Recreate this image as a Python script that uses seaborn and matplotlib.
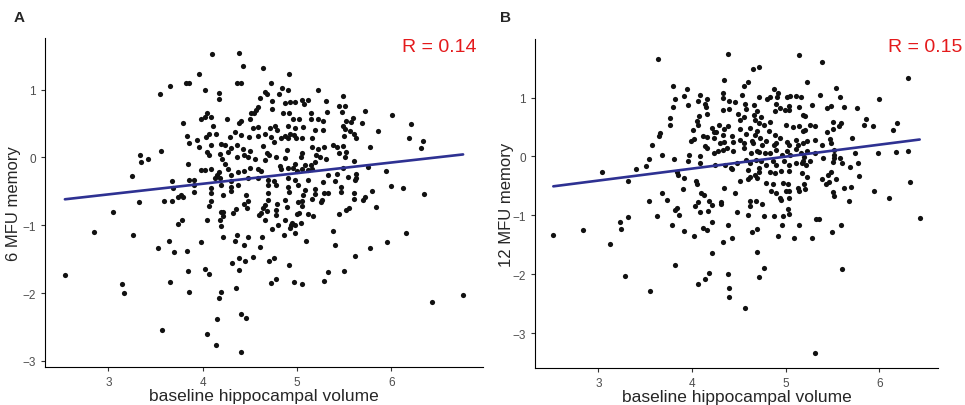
import numpy as np
import pandas as pd
import seaborn as sns
import matplotlib
matplotlib.use("Agg")
import matplotlib.pyplot as plt

# 패널 A : baseline volume vs 6 MFU memory
vol_a = [3.55, 3.65, 3.82, 3.85, 3.79, 3.83, 3.86, 3.34, 3.35, 3.42, 3.56, 3.84, 3.25, 3.67, 3.86, 3.69,
         3.77, 3.74, 3.79, 3.33, 3.59, 3.67, 3.05, 3.78, 3.74, 2.85, 3.26, 3.64, 3.53, 3.70, 3.83, 2.54,
         3.84, 3.15, 3.17, 3.65, 3.85, 3.57, 4.10, 4.39, 4.43, 4.64, 3.96, 4.92, 4.36, 4.41, 4.72, 4.02,
         4.17, 4.17, 4.84, 4.90, 4.66, 4.68, 4.61, 4.81, 5.22, 4.73, 4.87, 4.93, 4.98, 5.05, 5.12, 5.07,
         5.31, 4.59, 4.57, 4.54, 4.51, 4.74, 4.85, 4.91, 5.15, 4.05, 4.02, 3.98, 4.09, 4.26, 4.50, 4.96,
         5.02, 5.15, 5.22, 5.27, 4.90, 4.38, 4.41, 4.11, 4.59, 4.53, 4.71, 4.77, 4.79, 4.98, 4.93, 5.06,
         5.19, 5.27, 4.07, 4.04, 4.14, 4.34, 4.29, 4.49, 4.59, 4.66, 4.72, 4.83, 4.87, 4.90, 4.97, 4.99,
         5.05, 3.94, 4.41, 5.16, 4.09, 4.19, 4.24, 4.30, 4.36, 3.96, 4.43, 4.50, 4.64, 4.76, 4.89, 5.16,
         5.22, 5.29, 4.05, 4.07, 4.18, 4.27, 4.68, 4.70, 4.78, 5.05, 5.04, 5.20, 5.24, 4.21, 4.24, 4.36,
         4.44, 4.48, 4.55, 4.66, 4.87, 4.98, 5.08, 5.19, 5.15, 3.98, 4.02, 4.09, 4.17, 4.15, 4.27, 4.30,
         4.37, 4.44, 4.50, 4.59, 4.62, 4.82, 4.83, 4.90, 4.96, 5.00, 5.05, 5.12, 5.16, 3.91, 4.13, 4.18,
         4.30, 4.37, 4.48, 4.59, 4.69, 4.76, 4.90, 4.98, 5.12, 5.27, 3.91, 4.09, 4.09, 4.19, 4.30, 4.69,
         4.78, 4.90, 5.01, 5.08, 5.19, 3.91, 4.22, 4.30, 4.46, 4.69, 4.92, 5.06, 5.19, 5.29, 4.09, 4.48,
         4.69, 4.87, 5.05, 5.26, 4.07, 4.19, 4.22, 4.18, 4.19, 4.22, 4.05, 4.32, 4.35, 4.44, 4.47, 4.60,
         4.62, 4.64, 4.66, 4.68, 4.66, 4.78, 4.78, 4.79, 4.89, 4.87, 4.94, 4.95, 4.93, 4.98, 4.80, 4.73,
         5.01, 5.05, 5.00, 5.02, 5.04, 5.12, 5.17, 5.25, 5.16, 4.98, 5.10, 4.86, 4.63, 4.48, 4.36, 4.22,
         4.34, 4.44, 4.61, 3.98, 4.39, 4.45, 4.53, 4.31, 4.70, 4.76, 4.92, 4.03, 4.07, 4.39, 4.72, 4.78,
         4.97, 5.05, 5.29, 5.33, 4.35, 4.19, 4.17, 4.15, 4.41, 4.46, 4.05, 4.14, 4.41, 5.49, 5.45, 5.51,
         5.32, 5.48, 5.72, 6.01, 5.59, 5.52, 5.57, 5.49, 5.51, 5.56, 5.60, 5.63, 5.69, 5.50, 6.21, 5.86,
         6.19, 6.33, 6.31, 5.77, 5.38, 5.42, 5.49, 5.45, 5.52, 5.51, 5.31, 5.60, 5.49, 5.75, 5.94, 5.33,
         5.42, 5.54, 5.62, 5.63, 5.61, 5.40, 5.47, 5.47, 6.00, 6.12, 5.33, 5.60, 5.72, 5.79, 5.70, 6.35,
         5.60, 5.84, 5.52, 5.55, 5.44, 5.38, 6.15, 5.40, 5.95, 5.77, 5.61, 5.50, 6.43, 6.76]
mem6 = [0.93, 1.05, 1.09, 1.09, 0.50, 0.31, 0.21, 0.04, -0.07, -0.03, 0.09, -0.09, -0.28, -0.35, -0.34, -0.45,
        -0.55, -0.59, -0.58, -0.66, -0.65, -0.65, -0.80, -0.92, -0.98, -1.10, -1.14, -1.24, -1.33, -1.39, -1.38, -1.74,
        -1.68, -1.86, -2.00, -1.83, -1.98, -2.54, 1.53, 1.54, 1.35, 1.32, 1.23, 1.23, 1.10, 1.10, 1.10, 0.99,
        0.95, 0.86, 1.03, 0.99, 0.96, 0.93, 0.88, 0.93, 0.99, 0.83, 0.80, 0.81, 0.82, 0.84, 0.85, 0.78,
        0.83, 0.74, 0.70, 0.66, 0.65, 0.71, 0.65, 0.66, 0.66, 0.65, 0.60, 0.57, 0.60, 0.56, 0.57, 0.56,
        0.57, 0.56, 0.57, 0.54, 0.47, 0.50, 0.53, 0.47, 0.45, 0.43, 0.43, 0.47, 0.40, 0.43, 0.35, 0.45,
        0.40, 0.40, 0.35, 0.30, 0.35, 0.38, 0.30, 0.30, 0.31, 0.34, 0.30, 0.29, 0.31, 0.28, 0.33, 0.29,
        0.28, 0.26, 0.33, 0.28, 0.18, 0.20, 0.18, 0.14, 0.19, 0.15, 0.13, 0.10, 0.17, 0.23, 0.11, 0.16,
        0.13, 0.15, 0.08, 0.03, 0.05, 0.08, 0.06, 0.03, 0.00, 0.06, 0.00, 0.03, 0.00, -0.03, -0.09, 0.00,
        0.03, 0.01, -0.03, -0.04, -0.01, -0.09, -0.11, -0.07, -0.11, -0.19, -0.19, -0.17, -0.21, -0.26, -0.17, -0.26,
        -0.22, -0.20, -0.16, -0.17, -0.20, -0.13, -0.17, -0.16, -0.15, -0.20, -0.17, -0.19, -0.17, -0.33, -0.31, -0.31,
        -0.35, -0.41, -0.31, -0.31, -0.33, -0.35, -0.31, -0.33, -0.33, -0.37, -0.41, -0.45, -0.53, -0.41, -0.43, -0.41,
        -0.41, -0.43, -0.41, -0.48, -0.46, -0.51, -0.55, -0.50, -0.56, -0.52, -0.51, -0.55, -0.54, -0.53, -0.65, -0.65,
        -0.63, -0.63, -0.65, -0.63, -0.71, -0.80, -0.80, -0.93, -1.01, -0.87, -0.93, -0.82, -0.76, -0.68, -0.75, -0.85,
        -0.82, -0.75, -0.70, -0.79, -0.93, -0.78, -0.85, -0.69, -0.73, -0.92, -1.00, -0.96, -1.04, -1.00, -1.00, -1.06,
        -0.66, -0.71, -0.84, -0.82, -0.97, -0.84, -0.86, -0.66, -0.62, -1.11, -1.24, -1.14, -1.17, -1.18, -1.15, -1.18,
        -1.24, -1.29, -1.32, -1.25, -1.49, -1.53, -1.47, -1.56, -1.53, -1.49, -1.58, -1.65, -1.72, -1.66, -1.85, -1.80,
        -1.83, -1.87, -1.82, -1.69, -1.92, -1.99, -2.07, -2.38, -2.31, -2.37, -2.60, -2.77, -2.87, 0.91, 0.76, 0.76,
        0.67, 0.67, 0.69, 0.63, 0.58, 0.54, 0.52, 0.47, 0.42, 0.39, 0.35, 0.29, 0.50, 0.31, 0.49, 0.39,
        0.29, 0.24, 0.14, 0.16, 0.19, 0.16, 0.17, 0.06, 0.08, 0.00, -0.03, -0.05, -0.15, -0.14, -0.20, -0.26,
        -0.25, -0.29, -0.24, -0.31, -0.34, -0.35, -0.44, -0.51, -0.42, -0.45, -0.53, -0.53, -0.58, -0.50, -0.63, -0.54,
        -0.62, -0.73, -0.78, -0.74, -0.84, -1.08, -1.12, -1.29, -1.25, -1.34, -1.46, -1.67, -2.13, -2.03]

# 패널 B : baseline volume vs 12 MFU memory
vol_b = [3.64, 3.80, 3.82, 3.80, 3.77, 3.77, 3.66, 3.65, 3.57, 3.68, 3.54, 3.81, 3.40, 3.51, 3.04, 3.32,
         3.68, 3.73, 3.54, 3.82, 3.23, 3.32, 3.63, 3.79, 3.24, 2.84, 2.52, 3.13, 3.82, 3.29, 3.55, 4.38,
         5.14, 4.65, 4.72, 4.34, 4.60, 3.95, 3.91, 4.09, 4.16, 4.33, 4.33, 4.40, 4.46, 4.55, 4.53, 4.72,
         4.80, 4.83, 4.88, 4.92, 4.91, 5.01, 5.05, 5.11, 5.16, 3.96, 4.06, 4.14, 4.15, 4.33, 4.40, 4.57,
         4.58, 4.66, 4.69, 4.90, 4.94, 4.89, 4.99, 5.04, 5.04, 5.14, 5.18, 4.07, 4.05, 4.06, 4.16, 4.49,
         4.51, 4.56, 4.66, 4.67, 4.74, 4.72, 4.77, 4.83, 4.82, 4.89, 4.29, 4.34, 4.38, 4.21, 4.23, 4.26,
         4.51, 4.62, 4.58, 4.67, 4.69, 5.00, 5.08, 5.14, 5.18, 4.01, 3.99, 4.02, 4.12, 4.16, 4.23, 4.33,
         4.34, 4.30, 4.43, 4.44, 4.51, 4.55, 4.64, 4.65, 4.73, 4.75, 4.79, 4.87, 4.90, 4.94, 5.01, 5.03,
         5.11, 5.13, 5.18, 4.14, 4.16, 4.09, 4.23, 4.28, 4.33, 4.37, 4.44, 4.55, 4.63, 4.69, 4.72, 4.78,
         4.83, 4.90, 4.96, 5.01, 5.05, 5.11, 5.16, 3.97, 3.96, 4.09, 4.25, 4.35, 4.42, 4.48, 4.58, 4.62,
         4.68, 4.74, 4.79, 4.86, 4.90, 4.98, 5.04, 5.11, 5.17, 3.84, 3.85, 3.91, 4.43, 4.60, 4.67, 4.72,
         4.72, 4.83, 4.89, 4.95, 5.04, 4.04, 4.05, 3.90, 4.51, 4.60, 4.62, 4.69, 4.79, 4.86, 4.97, 5.02,
         5.13, 5.20, 4.10, 4.13, 4.34, 4.46, 4.84, 4.90, 5.00, 5.04, 5.14, 4.06, 4.18, 4.31, 4.62, 4.68,
         4.94, 5.03, 3.84, 3.86, 4.03, 4.09, 4.17, 4.21, 4.31, 4.21, 3.91, 4.02, 4.12, 4.16, 4.38, 4.33,
         4.43, 4.48, 4.62, 4.60, 4.75, 4.77, 4.64, 4.69, 4.88, 4.95, 4.97, 5.02, 5.03, 4.96, 4.92, 5.14,
         5.09, 4.21, 4.69, 4.18, 4.14, 4.06, 4.38, 4.40, 4.40, 4.77, 4.71, 4.57, 5.39, 6.31, 5.23, 5.54,
         5.37, 5.58, 6.00, 5.28, 5.44, 5.48, 5.62, 5.76, 5.21, 5.86, 5.84, 5.93, 6.19, 6.14, 5.26, 5.31,
         5.21, 5.50, 5.59, 5.57, 5.50, 5.44, 5.71, 5.47, 5.48, 5.39, 5.31, 5.23, 5.23, 5.31, 5.52, 5.52,
         5.40, 5.52, 5.58, 5.60, 5.74, 5.77, 5.69, 5.99, 6.18, 6.30, 5.18, 5.22, 5.26, 5.20, 5.50, 5.17,
         5.23, 5.48, 5.45, 5.43, 5.39, 5.54, 5.78, 5.21, 5.46, 5.62, 5.70, 5.94, 6.10, 6.33, 5.50, 5.52,
         5.68, 5.32, 5.36, 5.59, 5.49, 5.28, 6.43, 5.60, 5.31]
mem12 = [1.65, 1.20, 0.97, 0.84, 0.66, 0.53, 0.40, 0.34, 0.20, 0.02, -0.05, -0.04, -0.21, -0.17, -0.27, -0.41,
         -0.63, -0.74, -0.76, -0.91, -1.11, -1.03, -1.01, -1.16, -1.23, -1.25, -1.34, -1.49, -1.84, -2.03, -2.29, 1.74,
         1.73, 1.49, 1.51, 1.30, 1.27, 1.14, 1.02, 1.04, 0.97, 1.08, 0.99, 0.94, 0.93, 1.19, 1.05, 1.01,
         0.97, 1.01, 1.14, 1.07, 1.01, 1.01, 1.03, 1.02, 1.01, 0.88, 0.94, 0.89, 0.84, 0.79, 0.81, 0.89,
         0.81, 0.88, 0.77, 0.89, 0.83, 0.77, 0.78, 0.86, 0.78, 0.84, 0.70, 0.69, 0.60, 0.53, 0.72, 0.72,
         0.61, 0.67, 0.71, 0.62, 0.67, 0.56, 0.54, 0.59, 0.43, 0.37, 0.54, 0.47, 0.52, 0.49, 0.42, 0.42,
         0.47, 0.49, 0.38, 0.37, 0.43, 0.53, 0.50, 0.51, 0.43, 0.44, 0.26, 0.30, 0.34, 0.33, 0.32, 0.36,
         0.25, 0.23, 0.35, 0.25, 0.28, 0.23, 0.27, 0.22, 0.31, 0.20, 0.26, 0.20, 0.23, 0.32, 0.25, 0.20,
         0.28, 0.20, 0.23, 0.17, 0.14, 0.01, 0.06, 0.10, 0.11, 0.14, 0.10, 0.14, 0.06, 0.10, 0.08, 0.05,
         0.06, 0.11, 0.03, 0.09, 0.02, 0.12, 0.05, 0.03, -0.08, -0.11, -0.14, -0.14, -0.19, -0.11, -0.06, -0.12,
         -0.06, -0.08, -0.14, -0.07, -0.15, -0.08, -0.15, -0.11, -0.12, -0.26, -0.32, -0.36, -0.22, -0.23, -0.32, -0.27,
         -0.20, -0.26, -0.29, -0.25, -0.24, -0.42, -0.47, -0.56, -0.41, -0.38, -0.35, -0.36, -0.46, -0.47, -0.46, -0.47,
         -0.53, -0.47, -0.63, -0.66, -0.54, -0.62, -0.59, -0.63, -0.58, -0.59, -0.58, -0.78, -0.76, -0.78, -0.75, -0.76,
         -0.70, -0.71, -0.87, -1.00, -0.84, -0.94, -0.93, -0.83, -0.80, -1.11, -1.27, -1.35, -1.22, -1.25, -1.16, -1.46,
         -1.38, -0.95, -0.84, -0.99, -0.81, -1.01, -1.28, -1.24, -1.01, -0.74, -1.01, -0.90, -0.98, -1.16, -1.35, -1.17,
         -1.39, -1.64, -1.62, -1.98, -2.09, -2.17, -2.00, -2.24, -2.38, -1.90, -2.04, -2.58, 1.61, 1.33, 1.26, 1.17,
         1.05, 1.01, 0.97, 0.88, 0.83, 0.85, 0.84, 0.83, 0.68, 0.63, 0.54, 0.51, 0.56, 0.44, 0.54, 0.52,
         0.45, 0.59, 0.56, 0.51, 0.47, 0.41, 0.32, 0.29, 0.23, 0.19, 0.28, 0.26, 0.09, 0.06, 0.11, 0.03,
         -0.02, -0.03, -0.03, -0.12, 0.06, -0.11, -0.18, 0.05, 0.08, 0.10, -0.08, -0.14, -0.07, -0.01, -0.09, -0.28,
         -0.35, -0.27, -0.32, -0.47, -0.39, -0.38, -0.33, -0.56, -0.44, -0.53, -0.52, -0.58, -0.70, -0.43, -0.61, -0.68,
         -0.76, -1.06, -1.06, -1.16, -1.29, -1.39, -1.05, -1.92, -3.34]

panels = [
    ('A', vol_a, mem6, '6 MFU memory', 'R = 0.14'),
    ('B', vol_b, mem12, '12 MFU memory', 'R = 0.15'),
]
x_ticks = [3, 4, 5, 6]
y_ticks = [-3, -2, -1, 0, 1]

sns.set_style('ticks')
plt.rcParams['font.family'] = ['Liberation Sans', 'DejaVu Sans']

fig = plt.figure(figsize=(9.65, 4.06), dpi=100)
W, H = 965, 406
boxes = [(45, 483, 39, 368), (535, 938, 40, 369)]  # left, right, top, bottom (px)
tag_x = [14, 500]
ylab_x = [14, 506]
r_right = [477, 962]

for (tag, xs, ys, ylab, rtxt), (l, r, t, b), tx, lx, rr in zip(panels, boxes, tag_x, ylab_x, r_right):
    ax = fig.add_axes([l / W, 1 - b / H, (r - l) / W, (b - t) / H])
    df = pd.DataFrame({'vol': xs, 'mem': ys})
    sns.regplot(data=df, x='vol', y='mem', ax=ax, ci=None,
                scatter_kws={'s': 14, 'color': '#111111', 'linewidths': 0, 'alpha': 1},
                line_kws={'color': '#2E3192', 'lw': 1.9})
    # ggplot 기본 여백(5%)
    xr = df.vol.max() - df.vol.min()
    yr = df.mem.max() - df.mem.min()
    ax.set_xlim(df.vol.min() - 0.05 * xr, df.vol.max() + 0.05 * xr)
    ax.set_ylim(df.mem.min() - 0.05 * yr, df.mem.max() + 0.05 * yr)
    ax.set_xticks(x_ticks)
    ax.set_yticks(y_ticks)
    ax.tick_params(labelsize=8.5, labelcolor='#4D4D4D', color='#333333', length=3, width=0.8)
    for s in ['left', 'bottom']:
        ax.spines[s].set_linewidth(0.8)
        ax.spines[s].set_color('black')
    sns.despine(ax=ax)
    ax.set_xlabel('baseline hippocampal volume', fontsize=12.5, labelpad=0)
    ax.set_ylabel(ylab, fontsize=12)
    ax.yaxis.set_label_coords((lx - l) / (r - l), 0.5)
    ax.yaxis.label.set_va('center')
    fig.text(rr / W, 1 - 48 / H, rtxt, ha='right', va='center',
             fontsize=14, color='#E41A1C')
    fig.text(tx / W, 1 - 18 / H, tag, fontsize=11, fontweight='bold', ha='left', va='center')

fig.savefig('out.png', dpi=100)
